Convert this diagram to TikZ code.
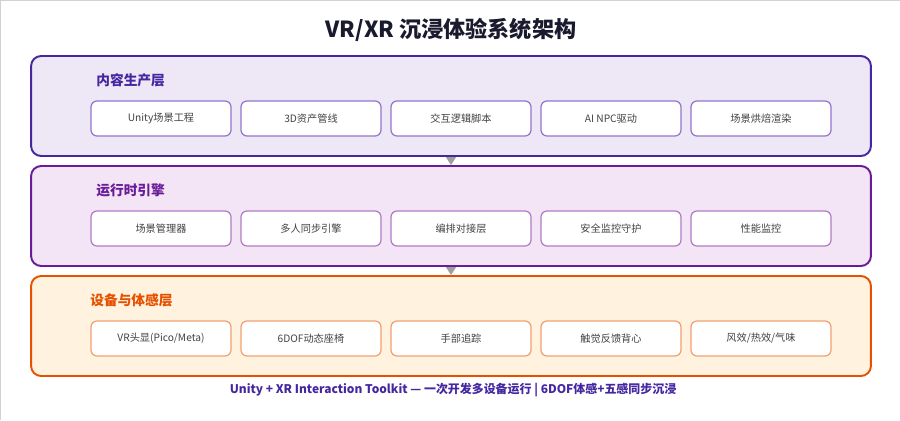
\documentclass[tikz,border=0pt]{standalone}
\usepackage{fontspec}
\setmainfont{Noto Sans CJK SC}
\usetikzlibrary{arrows.meta}

\definecolor{titlecol}{HTML}{1A1A2E}
\definecolor{textcol}{HTML}{424242}
\definecolor{contentfill}{HTML}{EDE7F6}
\definecolor{contentline}{HTML}{4527A0}
\definecolor{contentbox}{HTML}{9575CD}
\definecolor{runtimefill}{HTML}{F3E5F5}
\definecolor{runtimeline}{HTML}{6A1B9A}
\definecolor{runtimebox}{HTML}{B07CC6}
\definecolor{devicefill}{HTML}{FFF3E0}
\definecolor{deviceline}{HTML}{E65100}
\definecolor{devicebox}{HTML}{F0A070}

\tikzset{
    layer/.style={draw=#1line, fill=#1fill, line width=1.1pt, rounded corners=0.2cm,
        minimum width=16.8cm, minimum height=2cm, inner sep=0pt},
    layertitle/.style={text=#1line, font=\fontsize{7.8pt}{9pt}\selectfont\bfseries, anchor=west, inner sep=0pt},
    item/.style={draw=#1box, fill=white, line width=0.7pt, rounded corners=0.12cm,
        minimum width=2.8cm, minimum height=0.7cm, inner sep=0pt,
        text=textcol, font=\fontsize{5.8pt}{7pt}\selectfont},
    flow/.style={draw=gray!70, line width=0.6pt, -{Triangle[width=0.2cm,length=0.16cm]}, gray!75}
}

\begin{document}
\begin{tikzpicture}[x=0.02cm, y=-0.02cm]
    \useasboundingbox (0,0) rectangle (900,420);
    \draw[gray!35, line width=0.6pt] (0.5,420) -- (0.5,0.5) -- (900,0.5);

    \node[text=titlecol, font=\fontsize{12.6pt}{14pt}\selectfont\bfseries] (title) at (451,30) {VR/XR 沉浸体验系统架构};

    % layers
    \node[layer=content] (content) at (451,106) {};
    \node[layer=runtime] (runtime) at (451,216) {};
    \node[layer=device] (device) at (451,326) {};

    \node[layertitle=content] (contentlbl) at (96,80) {内容生产层};
    \node[layertitle=runtime] (runtimelbl) at (96,190) {运行时引擎};
    \node[layertitle=device] (devicelbl) at (90,300) {设备与体感层};

    % items
    \foreach \t [count=\i] in {Unity场景工程, 3D资产管线, 交互逻辑脚本, AI NPC驱动, 场景烘焙渲染} {
        \node[item=content] (c\i) at (11+150*\i,118.5) {\t};
    }
    \foreach \t [count=\i] in {场景管理器, 多人同步引擎, 编排对接层, 安全监控守护, 性能监控} {
        \node[item=runtime] (r\i) at (11+150*\i,228.5) {\t};
    }
    \foreach \t [count=\i] in {VR头显(Pico/Meta), 6DOF动态座椅, 手部追踪, 触觉反馈背心, 风效/热效/气味} {
        \node[item=device] (d\i) at (11+150*\i,338.5) {\t};
    }

    \draw[flow] (content.south) -- (runtime.north);
    \draw[flow] (runtime.south) -- (device.north);

    \node[text=contentline, font=\fontsize{6.8pt}{8pt}\selectfont\bfseries] (footer) at (453,390)
        {Unity + XR Interaction Toolkit — 一次开发多设备运行 | 6DOF体感+五感同步沉浸};
\end{tikzpicture}
\end{document}
